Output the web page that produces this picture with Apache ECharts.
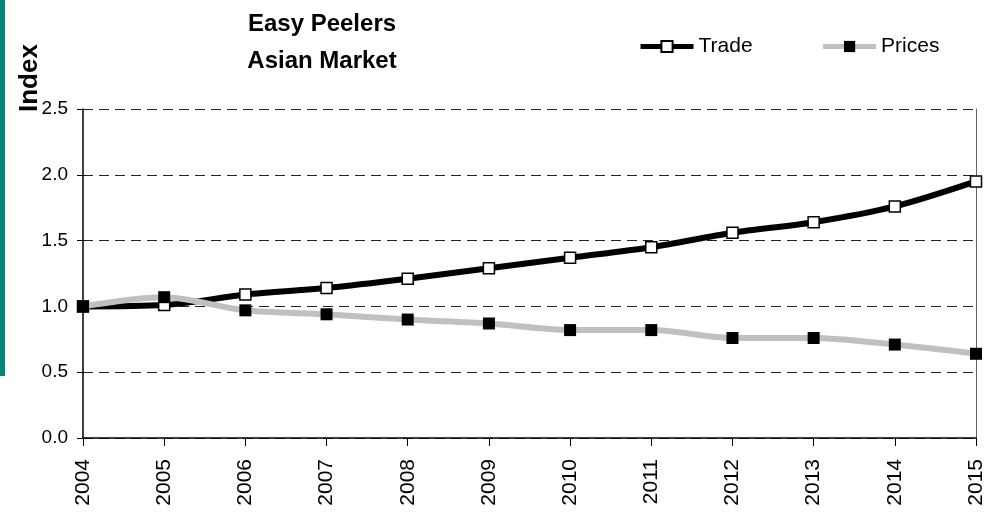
<!DOCTYPE html>
<html>
<head>
  <meta charset="utf-8">
  <title>Easy Peelers Asian Market</title>
  <script src="https://cdn.jsdelivr.net/npm/echarts@6/dist/echarts.min.js"></script>
  <style>
    html, body { margin: 0; padding: 0; background: #fff; }
  </style>
</head>
<body>
  <div id="main" style="width: 1000px;height:529px;"></div>

  <script>
    var years = ["2004", "2005", "2006", "2007", "2008", "2009", "2010", "2011", "2012", "2013", "2014", "2015"];
    var trade = [1.00, 1.01, 1.09, 1.14, 1.21, 1.29, 1.37, 1.45, 1.56, 1.64, 1.76, 1.95];
    var prices = [1.00, 1.07, 0.97, 0.94, 0.90, 0.87, 0.82, 0.82, 0.76, 0.76, 0.71, 0.64];

    var font = "Liberation Sans, Arial, sans-serif";
    var chart = echarts.init(document.getElementById("main"));

    var option = {
      animation: false,
      textStyle: { fontFamily: font },
      title: {
        text: "Easy Peelers\nAsian Market",
        left: 317,
        top: 1,
        textAlign: "center",
        textStyle: { fontSize: 24, fontWeight: "bold", color: "#000", lineHeight: 37, fontFamily: font }
      },
      legend: {
        top: 36,
        left: 638,
        padding: 0,
        itemWidth: 53,
        itemHeight: 14,
        itemGap: 68,
        lineStyle: { width: 5 },
        textStyle: { fontSize: 21, color: "#000", fontFamily: font },
        data: ["Trade", "Prices"]
      },
      graphic: [
        { type: "rect", left: 0, top: 0, shape: { width: 5, height: 376 }, style: { fill: "#00877d" } },
        {
          type: "text", x: 30, y: 112, rotation: Math.PI / 2,
          style: { text: "Index", font: "bold 26px " + font, fill: "#000", textAlign: "left", textVerticalAlign: "middle" }
        }
      ],
      grid: { left: 83, right: 24, top: 109, bottom: 91 },
      xAxis: {
        type: "category",
        data: years,
        boundaryGap: false,
        axisLine: { lineStyle: { color: "#000", width: 1.5 } },
        axisTick: { show: true, length: 8, lineStyle: { color: "#000" } },
        axisLabel: { rotate: 90, fontSize: 21, color: "#000", margin: 21, fontFamily: font }
      },
      yAxis: [{
        type: "value",
        min: 0,
        max: 2.5,
        interval: 0.5,
        axisLine: { show: true, lineStyle: { color: "#000", width: 1.5 } },
        axisTick: { show: true, length: 6, lineStyle: { color: "#000" } },
        axisLabel: { fontSize: 19, color: "#000", margin: 15, fontFamily: font,
          formatter: function (v) { return v.toFixed(1); } },
        splitLine: { lineStyle: { color: "#222", type: [10, 6], width: 1 } }
      }, {
        type: "value",
        position: "right",
        min: 0,
        max: 2.5,
        interval: 0.5,
        axisLine: { show: true, lineStyle: { color: "#666", width: 1 } },
        axisTick: { show: false },
        axisLabel: { show: false },
        splitLine: { show: false }
      }],
      series: [{
        name: "Trade",
        type: "line",
        data: trade,
        smooth: 0.3,
        symbol: "rect",
        symbolSize: 11,
        lineStyle: { color: "#000", width: 6 },
        itemStyle: { color: "#fff", borderColor: "#000", borderWidth: 1.5 },
        z: 2
      }, {
        name: "Prices",
        type: "line",
        data: prices,
        smooth: 0.3,
        symbol: "rect",
        symbolSize: 12,
        lineStyle: { color: "#c0c0c0", width: 6 },
        itemStyle: { color: "#000", borderColor: "#000", borderWidth: 0 },
        z: 3
      }]
    };
    chart.setOption(option);
  </script>
</body>
</html>
